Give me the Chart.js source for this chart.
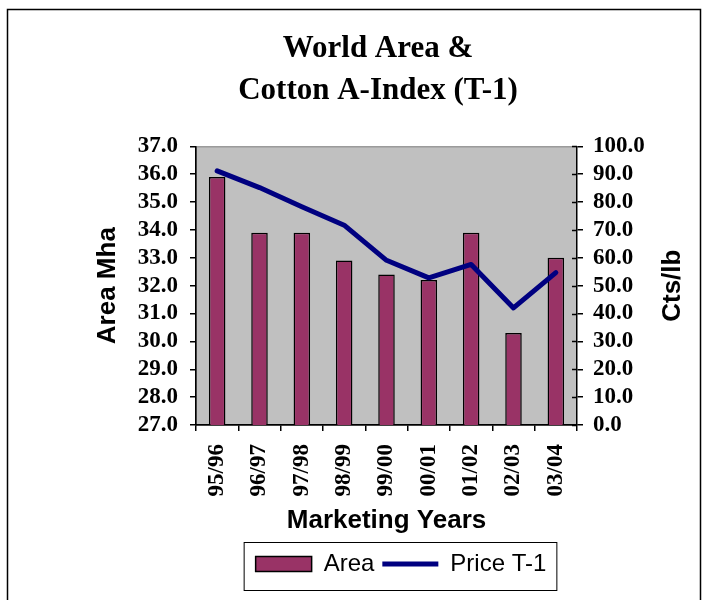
<html>
<head>
    <title>World Area &amp; Cotton A-Index (T-1)</title>
    <script src="https://cdn.jsdelivr.net/npm/chart.js"></script>
    <style>
        body { margin: 0; background: #fff; }
    </style>
</head>
<body>
<canvas id="chart" width="707" height="600"></canvas>

<script>
    // data
    const years = ['95/96', '96/97', '97/98', '98/99', '99/00', '00/01', '01/02', '02/03', '03/04'];
    const area = [35.9, 33.9, 33.9, 32.9, 32.4, 32.2, 33.9, 30.3, 33.0];
    const priceT1 = [91.2, 85.2, 78.3, 71.7, 59.1, 52.8, 57.6, 42.0, 54.7];
    const titleLines = ['World Area &', 'Cotton A-Index (T-1)'];

    const serif = 'Liberation Serif';
    const sans = 'Liberation Sans';

    // gray plot area, outer frame, right axis title, legend border
    const decor = {
        id: 'decor',
        beforeDraw(chart) {
            const {ctx, chartArea: a} = chart;
            ctx.save();
            ctx.fillStyle = '#fff';
            ctx.fillRect(0, 0, chart.width, chart.height);
            ctx.strokeStyle = '#000';
            ctx.lineWidth = 1.5;
            ctx.strokeRect(7.5, 9.5, 693, 700);
            ctx.fillStyle = '#c0c0c0';
            ctx.fillRect(a.left, a.top, a.right - a.left, a.bottom - a.top);
            ctx.strokeStyle = '#808080';
            ctx.lineWidth = 1;
            ctx.strokeRect(a.left + 0.5, a.top + 0.5, a.right - a.left - 1, a.bottom - a.top);
            ctx.restore();
        },
        afterLayout(chart) {
            const lg = chart.legend;
            lg.left += 23;
            lg.right += 23;
            lg.legendHitBoxes.forEach(h => { h.left += 23; });
        },
        afterDraw(chart) {
            const {ctx, chartArea: a} = chart;
            const y1 = chart.scales.y1;
            ctx.save();
            // inner half of right axis ticks
            ctx.strokeStyle = '#000';
            ctx.lineWidth = 1.5;
            y1.ticks.forEach(t => {
                const py = Math.round(y1.getPixelForValue(t.value)) + 0.5;
                ctx.beginPath();
                ctx.moveTo(a.right - 5, py);
                ctx.lineTo(a.right, py);
                ctx.stroke();
            });
            // right axis title, reading upward
            ctx.translate(673, (a.top + a.bottom) / 2);
            ctx.rotate(-Math.PI / 2);
            ctx.fillStyle = '#000';
            ctx.font = 'bold 26px "' + sans + '"';
            ctx.textAlign = 'center';
            ctx.textBaseline = 'middle';
            ctx.fillText('Cts/lb', 0, 0);
            ctx.restore();

            // box round the legend
            const hb = chart.legend.legendHitBoxes;
            const first = hb[0], last = hb[hb.length - 1];
            ctx.save();
            ctx.strokeStyle = '#000';
            ctx.lineWidth = 1;
            ctx.strokeRect(first.left - 11.5, first.top - 9.5, last.left + last.width - first.left + 22, 48);
            ctx.restore();
        }
    };

    const tickFont = {family: serif, size: 23, weight: 'bold'};
    const axisGrid = {display: true, drawOnChartArea: false, drawTicks: true, tickLength: 6, color: '#000', lineWidth: 1.5};
    const axisBorder = {display: true, color: '#000', width: 1.5};

    const ctx = document.getElementById('chart').getContext('2d');

    const chart = new Chart(ctx, {
        data: {
            labels: years,
            datasets: [{
                type: 'bar',
                label: 'Area',
                data: area,
                yAxisID: 'y',
                backgroundColor: '#993366',
                borderColor: '#000',
                borderWidth: 1.5,
                categoryPercentage: 1,
                barPercentage: 0.39,
                order: 1
            }, {
                type: 'line',
                label: 'Price T-1',
                data: priceT1,
                yAxisID: 'y1',
                borderColor: '#000080',
                backgroundColor: '#000080',
                borderWidth: 5,
                borderCapStyle: 'round',
                borderJoinStyle: 'round',
                pointRadius: 0,
                tension: 0,
                order: 0
            }]
        },
        options: {
            responsive: false,
            devicePixelRatio: 1,
            animation: false,
            layout: {padding: {left: 49, right: 0, top: 0, bottom: 14}},
            plugins: {
                tooltip: {enabled: false},
                title: {
                    display: true,
                    text: titleLines,
                    color: '#000',
                    font: {family: serif, size: 31, weight: 'bold', lineHeight: 1.36},
                    padding: {top: 28, bottom: 34}
                },
                legend: {
                    position: 'bottom',
                    labels: {
                        color: '#000',
                        font: {family: sans, size: 24},
                        usePointStyle: true,
                        pointStyleWidth: 56,
                        boxHeight: 15,
                        padding: 8,
                        sort: (a, b) => a.datasetIndex - b.datasetIndex,
                        generateLabels(chart) {
                            const items = Chart.defaults.plugins.legend.labels.generateLabels(chart);
                            items.forEach(it => {
                                it.pointStyle = it.datasetIndex === 0 ? 'rect' : 'line';
                            });
                            return items;
                        }
                    }
                }
            },
            scales: {
                x: {
                    grid: axisGrid,
                    border: axisBorder,
                    ticks: {
                        color: '#000',
                        font: tickFont,
                        minRotation: 90,
                        maxRotation: 90,
                        autoSkip: false,
                        padding: 13
                    },
                    title: {
                        display: true,
                        text: 'Marketing Years',
                        color: '#000',
                        font: {family: sans, size: 26, weight: 'bold', lineHeight: 1.2},
                        padding: {top: 0, bottom: 8}
                    },
                    afterFit(scale) { scale.height = 119; }
                },
                y: {
                    position: 'left',
                    min: 27,
                    max: 37,
                    grid: axisGrid,
                    border: axisBorder,
                    ticks: {
                        stepSize: 1,
                        autoSkip: false,
                        color: '#000',
                        font: tickFont,
                        padding: 12,
                        callback: v => v.toFixed(1)
                    },
                    title: {
                        display: true,
                        text: 'Area Mha',
                        color: '#000',
                        font: {family: sans, size: 26, weight: 'bold', lineHeight: 1.2},
                        padding: {top: 43, bottom: 0}
                    },
                    afterFit(scale) { scale.width = 147; }
                },
                y1: {
                    position: 'right',
                    min: 0,
                    max: 100,
                    grid: axisGrid,
                    border: axisBorder,
                    ticks: {
                        stepSize: 10,
                        autoSkip: false,
                        color: '#000',
                        font: tickFont,
                        padding: 10,
                        callback: v => v.toFixed(1)
                    },
                    afterFit(scale) { scale.width = 130; }
                }
            }
        },
        plugins: [decor]
    });
</script>
</body>
</html>
